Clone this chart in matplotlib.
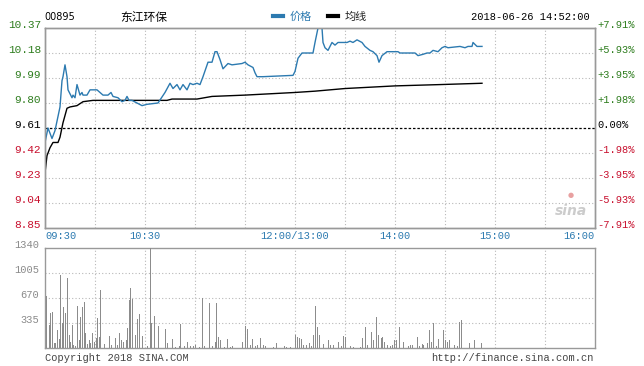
import matplotlib
matplotlib.use("Agg")
import matplotlib.pyplot as plt
from matplotlib.lines import Line2D

# Intraday data, minutes after 09:30 (lunch break 12:00-13:00 removed)
price_minutes = [0, 1.8, 4.2, 6, 9, 10.2, 10.8, 12, 13.2, 13.8, 16.2, 16.8, 18, 19.2, 21, 22.2,
                 22.8, 25.2, 27, 31.2, 33, 34.8, 37.8, 39.6, 40.8, 43.8, 46.2, 48, 49.2, 50.4,
                 52.2, 55.2, 58.2, 61.2, 67.8, 72, 75, 76.8, 79.2, 81, 82.8, 85.2, 87, 88.8,
                 91.2, 93, 94.8, 97.8, 100.2, 102, 103.2, 105, 106.8, 109.8, 112.2, 118.2, 120,
                 121.8, 124.8, 126, 127.2, 130.8, 148.8, 150, 151.8, 154.2, 160.8, 162, 163.8,
                 166.2, 166.8, 168, 169.8, 172.2, 174, 175.8, 178.2, 181.2, 183, 184.8, 187.2,
                 190.2, 192, 195, 196.8, 199.2, 200.4, 202.2, 205.2, 211.8, 213, 222, 223.8,
                 226.8, 229.2, 231, 232.8, 235.8, 238.2, 240, 241.8, 249, 252, 253.8, 256.2,
                 256.8, 259.2, 262.2]
price = [9.50, 9.61, 9.53, 9.59, 9.77, 9.97, 10.00, 10.09, 10.00, 9.90, 9.84, 9.86, 9.84, 9.94,
         9.86, 9.88, 9.86, 9.86, 9.90, 9.90, 9.88, 9.86, 9.86, 9.88, 9.85, 9.84, 9.81, 9.82,
         9.85, 9.82, 9.82, 9.80, 9.78, 9.79, 9.80, 9.88, 9.95, 9.91, 9.94, 9.90, 9.94, 9.90,
         9.95, 9.94, 9.95, 9.94, 10.00, 10.11, 10.11, 10.19, 10.19, 10.13, 10.06, 10.10, 10.09,
         10.10, 10.11, 10.09, 10.07, 10.03, 10.00, 10.00, 10.01, 10.04, 10.14, 10.18, 10.18,
         10.26, 10.37, 10.37, 10.26, 10.22, 10.20, 10.26, 10.24, 10.26, 10.26, 10.26, 10.27,
         10.26, 10.28, 10.26, 10.23, 10.20, 10.19, 10.16, 10.11, 10.16, 10.19, 10.19, 10.18,
         10.18, 10.16, 10.17, 10.18, 10.18, 10.20, 10.19, 10.22, 10.23, 10.22, 10.23, 10.22,
         10.23, 10.23, 10.26, 10.23, 10.23]

avg_minutes = [0, 1.2, 3, 4.8, 7.8, 9, 10.8, 13.2, 15, 19.2, 22.8, 28.8, 37.2, 57, 73.2, 76.2,
               91.2, 100.2, 120, 150, 162, 180, 210, 237, 262.2]
avg_price = [9.27, 9.40, 9.46, 9.50, 9.50, 9.54, 9.65, 9.76, 9.77, 9.78, 9.81, 9.82, 9.82, 9.82,
             9.82, 9.83, 9.83, 9.85, 9.86, 9.88, 9.89, 9.91, 9.93, 9.94, 9.95]

vol_minutes = [1.0, 2.6, 3.4, 4.4, 5.6, 6.4, 7.4, 8.6, 9.4, 10.4, 11.4, 12.0, 13.6, 14.6, 15.4,
               16.4, 17.4, 18.4, 19.4, 20.6, 21.4, 22.4, 23.4, 24.2, 25.4, 26.6, 27.4, 28.4,
               29.6, 30.6, 31.4, 32.4, 33.4, 35.6, 38.4, 40.0, 42.0, 43.4, 44.4, 46.0, 47.0,
               48.6, 49.6, 50.6, 51.4, 52.6, 54.0, 55.4, 56.6, 58.6, 61.6, 63.0, 64.0, 65.6,
               68.0, 72.4, 73.6, 76.4, 78.4, 80.4, 81.4, 83.6, 85.4, 87.4, 89.0, 90.4, 92.4,
               94.4, 95.4, 98.4, 100.4, 102.0, 103.0, 104.0, 105.4, 107.4, 109.4, 111.4, 112.4,
               118.6, 120.4, 121.4, 123.0, 124.4, 126.4, 127.4, 129.0, 131.0, 132.6, 137.0,
               139.0, 143.4, 145.0, 147.0, 150.4, 151.6, 152.6, 154.0, 155.0, 156.6, 158.4,
               159.6, 161.0, 162.4, 163.4, 164.4, 167.2, 170.2, 171.0, 173.2, 176.2, 177.6,
               179.2, 180.2, 183.2, 185.2, 189.2, 190.6, 192.2, 193.2, 195.8, 197.2, 198.8,
               200.2, 201.6, 202.6, 203.8, 205.2, 207.2, 208.6, 209.8, 210.8, 212.6, 215.2,
               217.8, 219.2, 220.6, 223.2, 224.6, 226.2, 227.2, 229.2, 230.6, 231.8, 233.2,
               234.8, 236.2, 239.2, 240.2, 241.2, 242.8, 245.8, 247.2, 248.8, 249.8, 254.8,
               257.8, 261.8]
volume = [697, 308, 473, 487, 71, 71, 241, 116, 978, 335, 554, 469, 933, 174, 85, 308, 40, 27,
          567, 107, 420, 554, 621, 197, 54, 107, 71, 197, 85, 130, 397, 152, 777, 49, 161, 40,
          138, 40, 197, 107, 85, 107, 272, 643, 800, 652, 174, 389, 455, 161, 27, 1336, 331,
          429, 295, 250, 71, 116, 18, 27, 321, 27, 85, 27, 27, 40, 18, 674, 27, 599, 27, 85,
          599, 152, 107, 18, 116, 18, 27, 85, 295, 250, 40, 116, 27, 40, 130, 40, 27, 18, 71,
          27, 18, 18, 174, 152, 138, 116, 40, 40, 63, 27, 174, 563, 281, 174, 54, 107, 40, 40,
          85, 27, 161, 143, 27, 18, 18, 130, 286, 40, 210, 107, 420, 174, 130, 152, 85, 40, 27,
          40, 107, 107, 277, 85, 27, 40, 40, 152, 27, 54, 40, 63, 241, 85, 331, 27, 116, 241,
          107, 85, 107, 40, 27, 353, 375, 71, 107, 71]

prev_close = 9.61
price_ticks = [10.37, 10.18, 9.99, 9.80, 9.61, 9.42, 9.23, 9.04, 8.85]
vol_ticks = [335, 670, 1005, 1340]
time_ticks = [0, 60, 150, 210, 270, 330]
time_labels = ["09:30", "10:30", "12:00/13:00", "14:00", "15:00", "16:00"]

blue = "#2c7ab0"
green = "#2e7d1e"
red = "#c8102e"
grid_kw = dict(color="#b8b8b8", linestyle=(0, (1, 2)), linewidth=0.8)

fig = plt.figure(figsize=(6.44, 3.66), dpi=100)
ax = fig.add_axes([45 / 644, 1 - 228 / 366, 550 / 644, 200 / 366])
axv = fig.add_axes([45 / 644, 1 - 348 / 366, 550 / 644, 100 / 366])

# Price panel
ax.plot(avg_minutes, avg_price, color="black", lw=1.0, zorder=3)
ax.plot(price_minutes, price, color=blue, lw=1.0, zorder=4)
ax.axhline(prev_close, color="black", lw=0.9, linestyle=(0, (2, 1.5)), zorder=2)
ax.set_xlim(0, 330)
ax.set_ylim(8.85, 10.37)
for t in range(30, 330, 30):
    ax.axvline(t, **grid_kw, zorder=1)
for p in price_ticks[1:-1]:
    if p != prev_close:
        ax.axhline(p, **grid_kw, zorder=1)

ax.set_yticks(price_ticks)
ax.set_yticklabels(["%.2f" % p for p in price_ticks], family="Liberation Mono", fontsize=8, va="baseline")
for lbl, p in zip(ax.get_yticklabels(), price_ticks):
    lbl.set_color(green if p > prev_close else (red if p < prev_close else "black"))

ax.set_xticks(time_ticks)
ax.set_xticklabels(time_labels, family="Liberation Mono", fontsize=7.5, color=blue)
xl = ax.get_xticklabels()
xl[0].set_ha("left")
xl[-1].set_ha("right")
ax.tick_params(length=0, pad=3)
ax.tick_params(axis="x", pad=2.5)

ax2 = ax.twinx()
ax2.set_ylim(8.85, 10.37)
ax2.set_yticks(price_ticks)
pct = [(p - prev_close) / prev_close * 100 for p in price_ticks]
ax2.set_yticklabels(["%+.2f%%" % v if abs(v) > 0.001 else "0.00%" for v in pct],
                    family="Liberation Mono", fontsize=7.5, va="baseline")
for lbl, v in zip(ax2.get_yticklabels(), pct):
    lbl.set_color(green if v > 0.001 else (red if v < -0.001 else "black"))
ax2.tick_params(length=0, pad=2)

for a in (ax, ax2, axv):
    for s in a.spines.values():
        s.set_color("#999999")
        s.set_linewidth(1)

# sina watermark
ax.text(0.985, 0.05, "sina", transform=ax.transAxes, ha="right", va="bottom",
        fontsize=10, fontweight="bold", style="italic", color="#cccccc", zorder=0)
ax.text(0.955, 0.15, "●", transform=ax.transAxes, ha="center", va="bottom",
        fontsize=5, color="#e8a0a0", zorder=0)

# Volume panel
axv.bar(vol_minutes, volume, width=0.6, color="#8c8c8c", zorder=3)
axv.set_xlim(0, 330)
axv.set_ylim(0, 1340)
for t in range(30, 330, 30):
    axv.axvline(t, **grid_kw, zorder=1)
for v in vol_ticks[:-1]:
    axv.axhline(v, **grid_kw, zorder=1)
axv.set_xticks([])
axv.set_yticks(vol_ticks)
axv.set_yticklabels([str(v) for v in vol_ticks], family="Liberation Mono", fontsize=7.5,
                    color="#8a8a8a", va="baseline")
axv.tick_params(length=0, pad=4)

# Header and footer
fig.text(44 / 644, 1 - 17 / 366, "00895", fontsize=7, family="DejaVu Sans", va="center")
fig.text(120 / 644, 1 - 17 / 366, "东江环保", fontsize=8.5, family="Noto Sans CJK SC", va="center")
fig.text(590 / 644, 1 - 17 / 366, "2018-06-26 14:52:00", fontsize=7.5, family="Liberation Mono",
         va="center", ha="right")
handles = [Line2D([], [], color=blue, lw=3), Line2D([], [], color="black", lw=3)]
leg = fig.legend(handles, ["价格", "均线"], loc="center", bbox_to_anchor=(320 / 644, 1 - 17 / 366),
                 ncol=2, frameon=False, handlelength=0.9, handletextpad=0.6, columnspacing=1.4,
                 prop={"family": "Noto Sans CJK SC", "size": 8}, borderpad=0)
leg.get_texts()[0].set_color(blue)
leg.get_texts()[1].set_color("#222222")

fig.text(45 / 644, 1 - 358 / 366, "Copyright 2018 SINA.COM", fontsize=7.5, family="Liberation Mono",
         color="#444444", va="center")
fig.text(594 / 644, 1 - 358 / 366, "http://finance.sina.com.cn", fontsize=7.5,
         family="Liberation Mono", color="#444444", va="center", ha="right")

fig.savefig("out.png", dpi=100)
